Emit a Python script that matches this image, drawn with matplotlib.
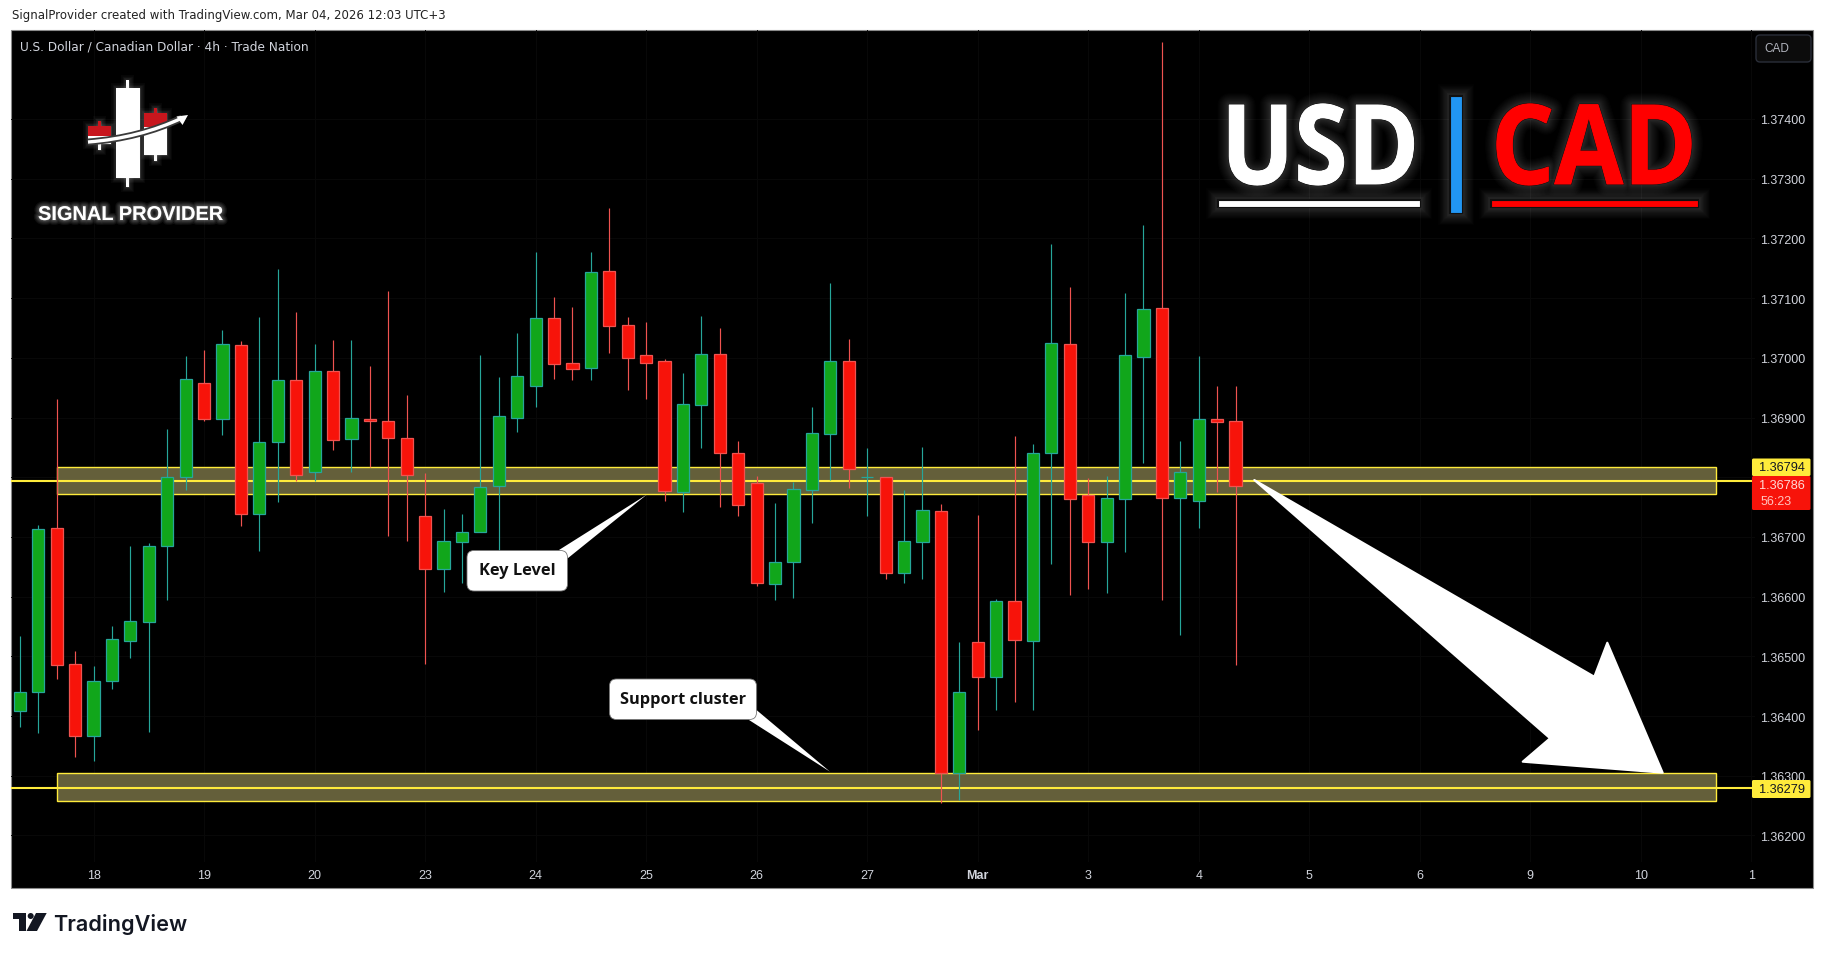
import matplotlib
matplotlib.use('Agg')
import matplotlib.pyplot as plt
import matplotlib.patheffects as pe
import numpy as np
from matplotlib.patches import Rectangle, Polygon, FancyBboxPatch, PathPatch, Circle
from matplotlib.path import Path
from matplotlib.transforms import Affine2D, ScaledTranslation

# USD/CAD 4h candles
opens = [1.36409, 1.36441, 1.36715, 1.36487, 1.36367, 1.36458, 1.36526, 1.36558, 1.36684, 1.36800,
         1.36957, 1.36897, 1.37021, 1.36738, 1.36859, 1.36962, 1.36808, 1.36978, 1.36864, 1.36897,
         1.36895, 1.36865, 1.36735, 1.36646, 1.36692, 1.36708, 1.36785, 1.36900, 1.36952, 1.37066,
         1.36991, 1.36983, 1.37145, 1.37055, 1.37004, 1.36994, 1.36776, 1.36921, 1.37006, 1.36840,
         1.36790, 1.36622, 1.36658, 1.36779, 1.36873, 1.36994, 1.36800, 1.36800, 1.36640, 1.36692,
         1.36743, 1.36304, 1.36524, 1.36466, 1.36592, 1.36526, 1.36840, 1.37023, 1.36770, 1.36692,
         1.36764, 1.37002, 1.37083, 1.36766, 1.36761, 1.36897, 1.36894]
highs = [1.36534, 1.36720, 1.36931, 1.36509, 1.36484, 1.36551, 1.36685, 1.36690, 1.36881, 1.37003,
         1.37013, 1.37047, 1.37028, 1.37069, 1.37149, 1.37077, 1.37023, 1.37030, 1.37030, 1.36986,
         1.37112, 1.36938, 1.36807, 1.36747, 1.36739, 1.37005, 1.36968, 1.37042, 1.37177, 1.37102,
         1.37085, 1.37177, 1.37251, 1.37069, 1.37060, 1.36998, 1.36975, 1.37070, 1.37050, 1.36861,
         1.36802, 1.36757, 1.36792, 1.36918, 1.37125, 1.37032, 1.36849, 1.36801, 1.36779, 1.36851,
         1.36755, 1.36524, 1.36737, 1.36596, 1.36869, 1.36856, 1.37191, 1.37119, 1.36799, 1.36802,
         1.37109, 1.37223, 1.37529, 1.36861, 1.37003, 1.36953, 1.36953]
lows = [1.36382, 1.36372, 1.36462, 1.36332, 1.36325, 1.36445, 1.36497, 1.36374, 1.36594, 1.36779,
        1.36894, 1.36871, 1.36719, 1.36677, 1.36759, 1.36794, 1.36794, 1.36845, 1.36809, 1.36817,
        1.36701, 1.36694, 1.36488, 1.36607, 1.36623, 1.36708, 1.36670, 1.36876, 1.36918, 1.36965,
        1.36963, 1.36963, 1.37008, 1.36946, 1.36931, 1.36760, 1.36742, 1.36849, 1.36750, 1.36735,
        1.36617, 1.36594, 1.36598, 1.36723, 1.36795, 1.36782, 1.36735, 1.36630, 1.36623, 1.36630,
        1.36255, 1.36260, 1.36376, 1.36410, 1.36424, 1.36410, 1.36655, 1.36603, 1.36613, 1.36606,
        1.36675, 1.36824, 1.36594, 1.36536, 1.36715, 1.36775, 1.36486]
closes = [1.36441, 1.36713, 1.36486, 1.36367, 1.36458, 1.36529, 1.36559, 1.36684, 1.36800, 1.36964,
          1.36897, 1.37023, 1.36738, 1.36859, 1.36962, 1.36803, 1.36978, 1.36862, 1.36899, 1.36894,
          1.36865, 1.36803, 1.36646, 1.36693, 1.36708, 1.36783, 1.36902, 1.36969, 1.37066, 1.36989,
          1.36982, 1.37143, 1.37054, 1.36999, 1.36992, 1.36777, 1.36922, 1.37006, 1.36840, 1.36754,
          1.36623, 1.36658, 1.36780, 1.36874, 1.36994, 1.36813, 1.36800, 1.36640, 1.36693, 1.36745,
          1.36305, 1.36440, 1.36466, 1.36592, 1.36528, 1.36840, 1.37024, 1.36764, 1.36692, 1.36765,
          1.37004, 1.37081, 1.36766, 1.36808, 1.36897, 1.36892, 1.36786]

price_ticks = [1.362, 1.363, 1.364, 1.365, 1.366, 1.367, 1.368, 1.369, 1.370, 1.371, 1.372, 1.373, 1.374]
date_labels = ['18', '19', '20', '23', '24', '25', '26', '27', 'Mar', '3', '4', '5', '6', '9', '10', '1']

upper_band = (1.36772, 1.36817)
lower_band = (1.36257, 1.36304)
key_level = 1.36794
support_level = 1.36279

W, H = 1825, 955
GREEN, GREEN_EDGE = '#11a61b', '#26a69a'
RED, RED_EDGE = '#f7130a', '#ef5350'
YELLOW = '#ffeb3b'


class Squeeze(pe.AbstractPathEffect):
    # narrows the glyph outlines, the banner lettering is a condensed face
    def __init__(self, xscale, layers):
        super().__init__()
        self.xscale = xscale
        self.layers = layers

    def draw_path(self, renderer, gc, tpath, affine, rgbFace=None):
        squeezed = Affine2D().scale(self.xscale, 1) + affine
        for layer in self.layers:
            layer.draw_path(renderer, gc, tpath, squeezed, rgbFace)


def glow(width=17, steps=18, alpha=0.016, color='white'):
    # more layers close to the shape so the halo fades out instead of ending on an edge
    return [pe.Stroke(linewidth=width * ((k + 1) / steps) ** 1.7, foreground=color, alpha=alpha)
            for k in reversed(range(steps))]


def outlined(fill=None):
    layers = glow() + [pe.Stroke(linewidth=1.6, foreground='#111111')]
    if fill:
        layers.append(pe.Stroke(linewidth=0.7, foreground=fill))
    return layers + [pe.Normal()]


fig = plt.figure(figsize=(W / 100, H / 100), dpi=100, facecolor='white')
fig.add_artist(Rectangle((11 / W, 1 - 888 / H), (1813 - 11) / W, (888 - 30) / H, transform=fig.transFigure,
                         facecolor='black', edgecolor='#8a8a8a', linewidth=0.8, zorder=-1))

ax = fig.add_axes([11 / W, 1 - 862 / H, (1755 - 11) / W, (862 - 30) / H], facecolor='none')
ax.set_xlim(-0.482, 94.2)
ax.set_ylim(1.361556, 1.37549)
for side in ax.spines.values():
    side.set_visible(False)

x = np.arange(len(opens))
o, h, l, c = map(np.array, (opens, highs, lows, closes))
up = c >= o

ax.axhspan(*upper_band, xmin=(2 + 0.482) / 94.682, xmax=(92.1 + 0.482) / 94.682, facecolor='#645f3a',
           edgecolor=YELLOW, linewidth=1.0, zorder=1)
ax.axhspan(*lower_band, xmin=(2 + 0.482) / 94.682, xmax=(92.1 + 0.482) / 94.682, facecolor='#645f3a',
           edgecolor=YELLOW, linewidth=1.0, zorder=1)
ax.axhline(key_level, xmax=0.9975, color=YELLOW, linewidth=1.5, zorder=2)
ax.axhline(support_level, xmax=0.9975, color=YELLOW, linewidth=1.5, zorder=2)

ax.vlines(x[up], l[up], h[up], color=GREEN_EDGE, linewidth=0.85, zorder=3)
ax.vlines(x[~up], l[~up], h[~up], color=RED_EDGE, linewidth=0.85, zorder=3)
ax.bar(x[up], (c - o)[up], bottom=o[up], width=0.66, color=GREEN, edgecolor=GREEN_EDGE, linewidth=0.9, zorder=4)
ax.bar(x[~up], (o - c)[~up], bottom=c[~up], width=0.66, color=RED, edgecolor=RED_EDGE, linewidth=0.9, zorder=4)

ax.yaxis.tick_right()
ax.set_yticks(price_ticks)
# the 1.36800 label sits behind the price tags on the original, so it stays blank
ax.set_yticklabels(['' if p == 1.368 else f'{p:.5f}' for p in price_ticks], family='Liberation Sans')
ax.set_xticks(4 + 6 * np.arange(len(date_labels)))
ax.set_xticklabels(date_labels, family='Liberation Sans')
ax.tick_params(axis='both', length=0, labelcolor='#d1d4dc', labelsize=9)
ax.tick_params(axis='y', pad=4)
ax.tick_params(axis='x', pad=5.5)
down_1px = ScaledTranslation(0, -1 / 100, fig.dpi_scale_trans)
for label in ax.get_yticklabels():
    label.set_transform(label.get_transform() + down_1px)
ax.get_xticklabels()[date_labels.index('Mar')].set_fontweight('bold')
ax.grid(True, color='#090909', linewidth=0.7, zorder=0)
ax.set_axisbelow(True)

# everything that sits on the chart and is not data goes here, in pixels
ov = fig.add_axes([0, 0, 1, 1], facecolor='none', zorder=5)
ov.set_xlim(0, W)
ov.set_ylim(H, 0)
ov.axis('off')

ov.text(12, 16, 'SignalProvider created with TradingView.com, Mar 04, 2026 12:03 UTC+3', fontsize=8.48,
        color='#222222', va='center', family='DejaVu Sans')
ov.text(20, 46.5, 'U.S. Dollar / Canadian Dollar · 4h · Trade Nation', fontsize=8.7, color='#d1d4dc', va='center',
        family='DejaVu Sans')

# CAD currency button
ov.add_patch(FancyBboxPatch((1756, 35), 55, 27, boxstyle='round,pad=0,rounding_size=4', facecolor='#0c0c0c',
                            edgecolor='#2a2e39', linewidth=1))
ov.text(1777, 49.5, 'CAD', fontsize=8.5, color='#b2b5be', ha='center', va='center', family='Liberation Sans')

# price tags
ov.add_patch(FancyBboxPatch((1752, 458.5), 58.5, 17.5, boxstyle='round,pad=0,rounding_size=1.5', facecolor=YELLOW,
                            edgecolor='none'))
ov.text(1782, 468, f'{key_level:.5f}', fontsize=9.2, color='#131722', ha='center', va='center',
        family='Liberation Sans')
ov.add_patch(FancyBboxPatch((1752, 476), 58.5, 34, boxstyle='round,pad=0,rounding_size=1.5', facecolor=RED,
                            edgecolor='none'))
ov.text(1782, 486, f'{closes[-1]:.5f}', fontsize=9.2, color='#ffd9d6', ha='center', va='center',
        family='Liberation Sans')
ov.text(1761, 502, '56:23', fontsize=9, color='#ffc4bf', ha='left', va='center', family='Liberation Sans')
ov.add_patch(FancyBboxPatch((1752, 780), 58.5, 18, boxstyle='round,pad=0,rounding_size=1.5', facecolor=YELLOW,
                            edgecolor='none'))
ov.text(1782, 790, f'{support_level:.5f}', fontsize=9.2, color='#131722', ha='center', va='center',
        family='Liberation Sans')

# USD | CAD banner
ov.text(1221, 184, 'USD', fontsize=79.7, fontweight='bold', color='white', family='Open Sans', va='baseline',
        path_effects=[Squeeze(0.875, outlined('white'))])
ov.text(1491, 184, 'CAD', fontsize=79.7, fontweight='bold', color='#ff0000', family='Open Sans', va='baseline',
        path_effects=[Squeeze(0.90, outlined('#ff0000'))])
ov.add_patch(Rectangle((1218, 200), 202, 7, facecolor='white', edgecolor='#111111', linewidth=0.8,
                       path_effects=outlined()))
ov.add_patch(Rectangle((1491.5, 200), 207, 7, facecolor='#ff0000', edgecolor='#111111', linewidth=0.8,
                       path_effects=outlined()))
ov.add_patch(Rectangle((1450, 96), 12.3, 117, facecolor='#2196f3', edgecolor='#111111', linewidth=0.8,
                       path_effects=outlined()))

# logo
logo_glow = glow(7, 7, 0.035, '#dddddd') + [pe.Normal()]
ov.add_patch(Rectangle((126.5, 80), 2.6, 107, facecolor='white', path_effects=logo_glow))
ov.add_patch(Rectangle((116, 88), 24, 90, facecolor='white', path_effects=logo_glow))
ov.add_patch(Rectangle((154, 108), 2.6, 53, facecolor='white', path_effects=logo_glow))
ov.add_patch(Rectangle((144, 113), 23.5, 42, facecolor='white', path_effects=logo_glow))
ov.add_patch(Rectangle((144, 113), 23.5, 14, facecolor='#c8161d'))
ov.add_patch(Rectangle((98, 121), 2.6, 29, facecolor='white', path_effects=logo_glow))
ov.add_patch(Rectangle((88, 126), 23, 18, facecolor='white', path_effects=logo_glow))
ov.add_patch(Rectangle((88, 126), 23, 10.5, facecolor='#c8161d'))
ov.add_patch(Rectangle((98, 121), 2.6, 5, facecolor='#c8161d'))
ov.add_patch(Rectangle((154, 108), 2.6, 5, facecolor='#c8161d'))
swoosh = Path([(88, 142), (140, 138), (182, 118)], [Path.MOVETO, Path.CURVE3, Path.CURVE3])
ov.add_patch(PathPatch(swoosh, facecolor='none', edgecolor='#3a3a3a', linewidth=5))
ov.add_patch(PathPatch(swoosh, facecolor='none', edgecolor='white', linewidth=2.4))
ov.add_patch(Polygon([(188, 115), (176.5, 116.5), (182.5, 125)], facecolor='white', edgecolor='none'))
ov.text(38, 220, 'SIGNAL PROVIDER', fontsize=14.4, fontweight='bold', color='white', family='Liberation Sans',
        va='baseline', path_effects=glow(7, 7, 0.06) + [pe.Normal()])

# callouts
ov.add_patch(Polygon([(559, 550), (646.7, 494.7), (567.5, 558.5)], facecolor='white', edgecolor='none'))
ov.add_patch(FancyBboxPatch((467, 550.5), 100.5, 40.5, boxstyle='round,pad=0,rounding_size=7', facecolor='white',
                            edgecolor='#777777', linewidth=0.6))
ov.text(517.5, 571, 'Key Level', fontsize=11.8, fontweight='bold', color='#111111', ha='center', va='center',
        family='Open Sans')
ov.add_patch(Polygon([(749, 720), (830, 771.7), (756.5, 710)], facecolor='white', edgecolor='none'))
ov.add_patch(FancyBboxPatch((609.5, 679), 147, 40.5, boxstyle='round,pad=0,rounding_size=7', facecolor='white',
                            edgecolor='#777777', linewidth=0.6))
ov.text(683, 700, 'Support cluster', fontsize=11.8, fontweight='bold', color='#111111', ha='center', va='center',
        family='Open Sans')

# big target arrow
ov.add_patch(Polygon([(1254.3, 480), (1594.3, 676.7), (1607.3, 642.7), (1662.7, 772.7), (1522.7, 761.7),
                      (1550, 738.3)], closed=True, facecolor='white', edgecolor='white', linewidth=1.5,
                     joinstyle='round'))

# TradingView mark
ov.add_patch(Polygon([(12.7, 913), (26, 913), (26, 931), (19.3, 931), (19.3, 919), (12.7, 919)], facecolor='#131722'))
ov.add_patch(Circle((30.7, 916), 3, facecolor='#131722'))
ov.add_patch(Polygon([(36, 913), (46.7, 913), (37, 931), (26.5, 931)], facecolor='#131722'))
ov.text(53, 931, 'TradingView', fontsize=15.6, fontweight='semibold', color='#131722', family='Inter', va='baseline')

plt.savefig('out.png', dpi=100, facecolor='white')
